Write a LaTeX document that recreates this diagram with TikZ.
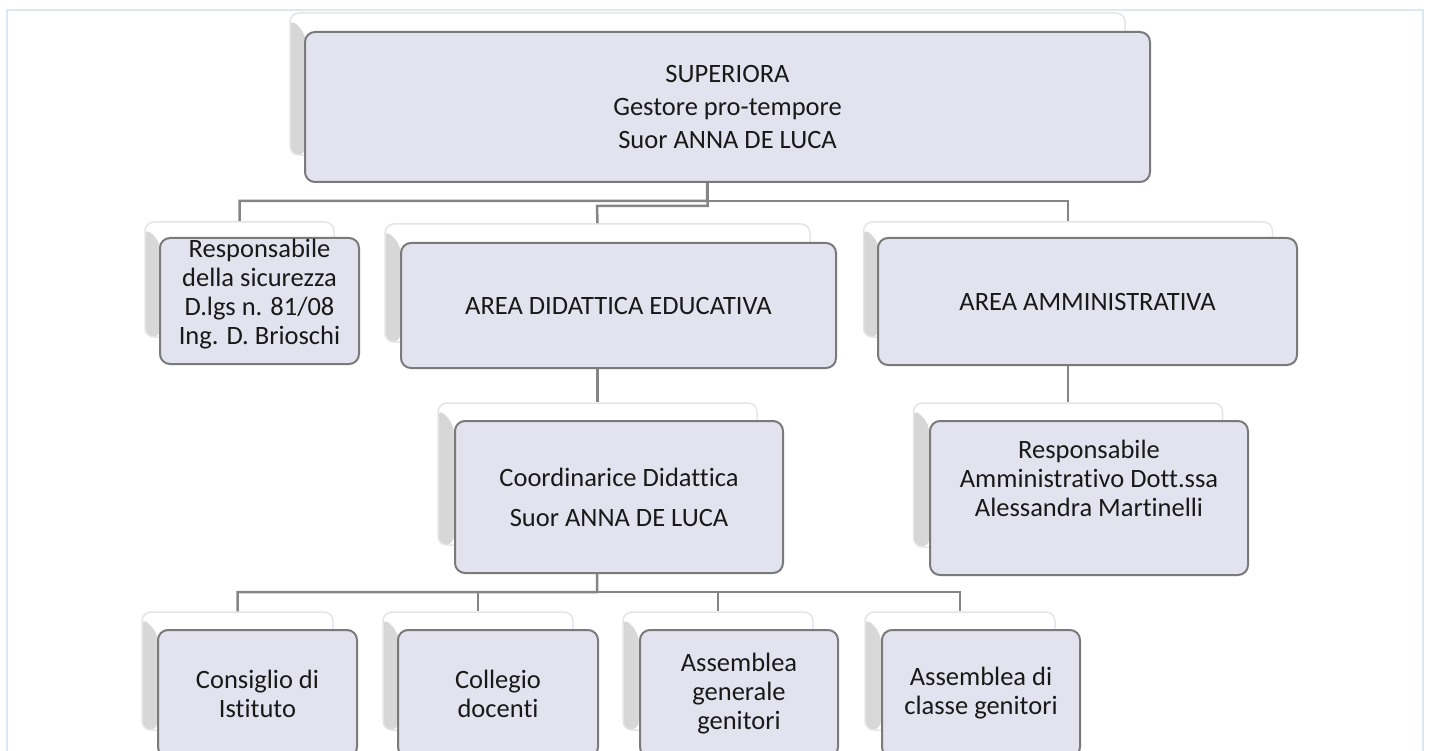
\documentclass[tikz,border=0pt]{standalone}
\usepackage{fontspec}
\setmainfont{Carlito}[Ligatures = NoCommon]
\definecolor{boxfill}{HTML}{E3E2EF}
\definecolor{boxline}{HTML}{7A7A7A}
\definecolor{linkgray}{HTML}{858585}
\definecolor{frameblue}{HTML}{DCE8F4}

\begin{document}
\begin{tikzpicture}[x = 1pt, y = -1pt,
    backbox/.style  = {draw = gray!20, line width = 1.5pt, fill = white, rounded corners = 9pt, inner sep = 0pt,
                       path picture = {\shade [left color = gray!32, right color = gray!4]
                         ([yshift = -5pt] path picture bounding box.north west) -- ++(16pt, -16pt)
                         |- (path picture bounding box.south west) -- cycle;}},
    frontbox/.style = {draw = boxline, line width = 2pt, fill = boxfill, rounded corners = 10pt, inner sep = 0pt,
                       align = center, text = black!90, font = \fontsize{26.5}{29}\selectfont},
    link/.style     = {draw = linkgray, line width = 2.5pt}]
    \useasboundingbox (0, 0) rectangle (1431, 751);
    \clip (0, 0) rectangle (1431, 751);
    \draw [frameblue, line width = 2pt] (7, 10) rectangle (1423, 800);

    \node (supB)   at ( 707.5,  84) [backbox, minimum width = 835, minimum height = 142] {};
    \node (sicB)   at ( 239.5, 279.5) [backbox, minimum width = 189, minimum height = 115] {};
    \node (didB)   at ( 597.5, 283) [backbox, minimum width = 425, minimum height = 118] {};
    \node (ammB)   at (1068,   279.5) [backbox, minimum width = 409, minimum height = 115] {};
    \node (coordB) at ( 597.5, 474) [backbox, minimum width = 319, minimum height = 142] {};
    \node (raB)    at (1068,   475) [backbox, minimum width = 309, minimum height = 144] {};
    \node (conB)   at ( 237.5, 671) [backbox, minimum width = 191, minimum height = 118] {};
    \node (colB)   at ( 478,   671) [backbox, minimum width = 190, minimum height = 118] {};
    \node (agB)    at ( 718,   671) [backbox, minimum width = 190, minimum height = 118] {};
    \node (acB)    at ( 960,   671) [backbox, minimum width = 190, minimum height = 118] {};

    \coordinate (bus1) at (707, 201);
    \coordinate (jog1) at (597, 206);
    \coordinate (bus2) at (597, 592);
    \draw [link] (supB.south) -- (bus1) -| (sicB.north);
    \draw [link] (bus1) -| (ammB.north);
    \draw [link] (supB.south) |- (jog1) -- (didB.north);
    \draw [link] (didB.south) -- (coordB.north);
    \draw [link] (ammB.south) -- (raB.north);
    \draw [link] (coordB.south) -- (bus2) -| (conB.north);
    \draw [link] (bus2) -| (colB.north);
    \draw [link] (bus2) -| (agB.north);
    \draw [link] (bus2) -| (acB.north);

    \node (sup)   at ( 727.5, 107) [frontbox, minimum width = 845, minimum height = 150]
      {SUPERIORA\\[4pt] Gestore pro-tempore\\[4pt] Suor ANNA DE LUCA};
    \node (sic)   at ( 259.5, 301) [frontbox, minimum width = 199, minimum height = 126, text depth = 18pt]
      {Responsabile\\ della sicurezza\\ D.lgs n. 81/08\\ Ing. D. Brioschi};
    \node (did)   at ( 618.5, 305.5) [frontbox, minimum width = 435, minimum height = 125]
      {AREA DIDATTICA EDUCATIVA};
    \node (amm)   at (1087.5, 301.5) [frontbox, minimum width = 419, minimum height = 127]
      {AREA AMMINISTRATIVA};
    \node (coord) at ( 619,   497) [frontbox, minimum width = 328, minimum height = 152]
      {Coordinarice Didattica\\[11pt] Suor ANNA DE LUCA};
    \node (ra)    at (1089,   498) [frontbox, minimum width = 318, minimum height = 154, text depth = 40pt]
      {Responsabile\\ Amministrativo Dott.ssa\\ Alessandra Martinelli};
    \node (con)   at ( 257.5, 693.5) [frontbox, minimum width = 199, minimum height = 127]
      {Consiglio di\\ Istituto};
    \node (col)   at ( 498,   693.5) [frontbox, minimum width = 200, minimum height = 127]
      {Collegio\\ docenti};
    \node (ag)    at ( 739,   693.5) [frontbox, minimum width = 198, minimum height = 127]
      {Assemblea\\ generale\\ genitori};
    \node (ac)    at ( 981,   693.5) [frontbox, minimum width = 198, minimum height = 127]
      {Assemblea di\\ classe genitori};
\end{tikzpicture}
\end{document}
